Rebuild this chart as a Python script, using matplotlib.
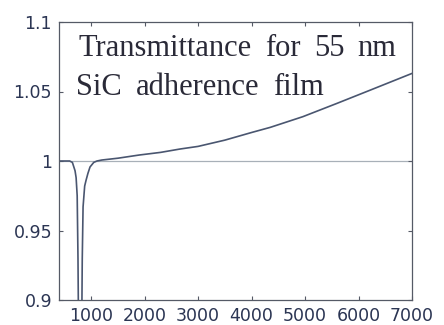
import matplotlib
matplotlib.use("Agg")
import matplotlib.pyplot as plt

# Data
wavenumber = [400, 600, 650, 700, 720, 740, 755, 765, 825, 835, 850, 880, 905, 940,
              980, 1050, 1110, 1200, 1500, 1900, 2300, 2660, 3000, 3500, 4000, 4350,
              4960, 5600, 6220, 6960, 7000]
transmittance = [1.0, 1.0, 0.999, 0.993, 0.988, 0.975, 0.93, 0.88, 0.88, 0.93, 0.967,
                 0.982, 0.986, 0.991, 0.9957, 0.999, 1.0, 1.0007, 1.002, 1.0043, 1.0062,
                 1.0086, 1.0105, 1.0150, 1.0205, 1.0242, 1.0319, 1.0415, 1.051, 1.0624,
                 1.063]
reference_level = 1.0
xticks = [1000, 2000, 3000, 4000, 5000, 6000, 7000]
yticks = [0.9, 0.95, 1.0, 1.05, 1.1]
ytick_labels = ["0.9", "0.95", "1", "1.05", "1.1"]
title_line1 = ["Transmittance", "for", "55", "nm"]
title_line2 = ["SiC", "adherence", "film"]

W, H = 444, 325
fig = plt.figure(figsize=(W / 100, H / 100), dpi=100)
ax = fig.add_axes([59/W, 25/H, 353/W, 278/H])

ax.axhline(reference_level, color="#a8b0b8", lw=0.9, zorder=1)
ax.plot(wavenumber, transmittance, color="#4a5670", lw=1.2, zorder=2)

ax.set_xlim(400, 7000)
ax.set_ylim(0.9, 1.1)
ax.set_xticks(xticks)
ax.set_xticklabels([str(t) for t in xticks])
ax.set_yticks(yticks)
ax.set_yticklabels(ytick_labels)

tick_color = "#2b3553"
ax.tick_params(direction="in", length=3, width=0.8, top=True, right=True,
               colors="#555a66", labelcolor=tick_color, labelsize=12.5, pad=5)
for lab in ax.get_xticklabels() + ax.get_yticklabels():
    lab.set_family("DejaVu Sans")
for s in ax.spines.values():
    s.set_color("#555a66")
    s.set_linewidth(0.9)

# word placement (pixel layout of the in-plot annotation)
line1_x = [78, 265, 314, 357]
line2_x = [76, 136, 273]
for word, px in zip(title_line1, line1_x):
    fig.text(px / W, 1 - 56 / H, word, family="Liberation Serif", fontsize=22,
             color="#2a2a38", va="baseline", ha="left")
for word, px in zip(title_line2, line2_x):
    fig.text(px / W, 1 - 95 / H, word, family="Liberation Serif", fontsize=22,
             color="#2a2a38", va="baseline", ha="left")

fig.savefig("out.png", dpi=100)
